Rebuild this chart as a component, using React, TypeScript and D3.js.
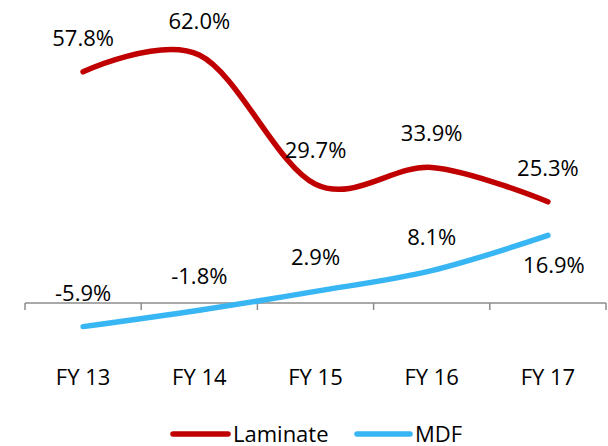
import React from "react";
import * as d3 from "d3";

const categories = ["FY 13", "FY 14", "FY 15", "FY 16", "FY 17"];
const laminate = [57.8, 62.0, 29.7, 33.9, 25.3];
const mdf = [-5.9, -1.8, 2.9, 8.1, 16.9];
// where each MDF label sits: above the point, or below it
const mdfLabelBelow = [false, false, false, false, true];

const RED = "#c00000";
const BLUE = "#38b6f4";
const FONT = "'Open Sans', 'Liberation Sans', sans-serif";

export default function App() {
  const width = 608;
  const height = 446;

  // category axis runs from the left edge tick to the right edge tick
  const x = d3.scaleBand<string>().domain(categories).range([25, 606]);
  const cx = (c: string) => (x(c) as number) + x.bandwidth() / 2;

  // zero sits on the axis line, 4px per percentage point
  const y = d3.scaleLinear().domain([-10, 70]).range([343, 23]);

  const line = d3
    .line<number>()
    .x((_, i) => cx(categories[i]))
    .y((d) => y(d))
    .curve(d3.curveCatmullRom.alpha(0));

  const fmt = (v: number) => v.toFixed(1) + "%";
  const ticks = [...categories.map((c) => x(c) as number), 606];

  return (
    <svg
      width={width}
      height={height}
      style={{ position: "absolute", left: 0, top: 0, background: "#fff" }}
      fontFamily={FONT}
    >
      {/* category axis */}
      <line x1={25} x2={606} y1={y(0)} y2={y(0)} stroke="#8c8c8c" strokeWidth={1.5} />
      {ticks.map((t, i) => (
        <line key={i} x1={t} x2={t} y1={y(0)} y2={y(0) + 7} stroke="#8c8c8c" strokeWidth={1.5} />
      ))}
      {categories.map((c) => (
        <text key={c} x={cx(c)} y={385} textAnchor="middle" fontSize={22} fill="#000">
          {c}
        </text>
      ))}

      {/* series lines */}
      <path d={line(laminate) || ""} fill="none" stroke={RED} strokeWidth={5.5} strokeLinecap="round" />
      <path d={line(mdf) || ""} fill="none" stroke={BLUE} strokeWidth={5.5} strokeLinecap="round" />

      {/* data labels */}
      {laminate.map((v, i) => (
        <text key={"l" + i} x={cx(categories[i])} y={y(v) - 26} textAnchor="middle" fontSize={22} fill="#000">
          {fmt(v)}
        </text>
      ))}
      {mdf.map((v, i) => (
        <text
          key={"m" + i}
          x={cx(categories[i]) + (mdfLabelBelow[i] ? 6 : 0)}
          y={mdfLabelBelow[i] ? y(v) + 38 : y(v) - 26}
          textAnchor="middle"
          fontSize={22}
          fill="#000"
        >
          {fmt(v)}
        </text>
      ))}

      {/* legend */}
      <line x1={173} x2={228} y1={434} y2={434} stroke={RED} strokeWidth={5.5} strokeLinecap="round" />
      <text x={233} y={442} fontSize={22} fill="#000">Laminate</text>
      <line x1={357} x2={410} y1={434} y2={434} stroke={BLUE} strokeWidth={5.5} strokeLinecap="round" />
      <text x={415} y={442} fontSize={22} fill="#000">MDF</text>
    </svg>
  );
}
